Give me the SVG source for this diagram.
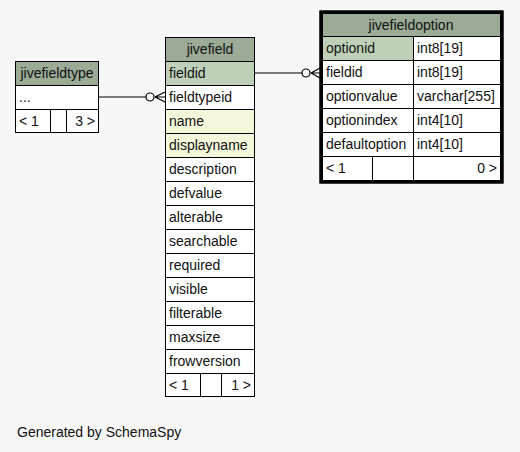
<svg xmlns="http://www.w3.org/2000/svg" width="520" height="452" viewBox="0 0 520 452">
<style>
text{font-family:"Liberation Sans",Arial,sans-serif;font-size:14px;fill:#111}
.hd{fill:#9bab96}
.pk{fill:#bed1b8}
.ix{fill:#f4f7da}
.rw{fill:#ffffff}
.b{stroke:#000;stroke-width:1}
.c{fill:none;stroke:#000;stroke-width:1.2}
.m{text-anchor:middle}
.e{text-anchor:end}
</style>
<rect width="520" height="452" fill="#f7f7f7"/>
<g id="connectors">
<line x1="254" y1="73" x2="302" y2="73" class="c"/>
<circle cx="306" cy="73" r="4" class="c"/>
<path d="M311 73 L320 68 M311 73 L320 73 M311 73 L320 78" class="c" stroke-width="1.6"/>
<line x1="98" y1="97" x2="146" y2="97" class="c"/>
<circle cx="150" cy="97" r="4" class="c"/>
<path d="M155 97 L165 92 M155 97 L165 97 M155 97 L165 102" class="c" stroke-width="1.6"/>
</g>
<g id="jivefieldtype">
<rect x="15.5" y="61.5" width="83" height="71" class="rw b"/>
<rect x="15.5" y="61.5" width="83" height="24" class="hd b"/>
<rect x="15.5" y="85.5" width="83" height="24" class="rw b"/>
<rect x="15.5" y="109.5" width="83" height="23" class="rw b"/>
<line x1="50.5" y1="109.5" x2="50.5" y2="132.5" class="b"/>
<line x1="66.5" y1="109.5" x2="66.5" y2="132.5" class="b"/>
<text x="57" y="78" class="m">jivefieldtype</text>
<text x="19" y="102">...</text>
<text x="19" y="126">&lt; 1</text>
<text x="95" y="126" class="e">3 &gt;</text>
</g>
<g id="jivefield">
<rect x="165.5" y="37.5" width="89" height="359" class="rw b"/>
<rect x="165.5" y="37.5" width="89" height="24" class="hd b"/>
<rect x="165.5" y="61.5" width="89" height="24" class="pk b"/>
<rect x="165.5" y="85.5" width="89" height="24" class="rw b"/>
<rect x="165.5" y="109.5" width="89" height="24" class="ix b"/>
<rect x="165.5" y="133.5" width="89" height="24" class="ix b"/>
<rect x="165.5" y="157.5" width="89" height="24" class="rw b"/>
<rect x="165.5" y="181.5" width="89" height="24" class="rw b"/>
<rect x="165.5" y="205.5" width="89" height="24" class="rw b"/>
<rect x="165.5" y="229.5" width="89" height="24" class="rw b"/>
<rect x="165.5" y="253.5" width="89" height="24" class="rw b"/>
<rect x="165.5" y="277.5" width="89" height="24" class="rw b"/>
<rect x="165.5" y="301.5" width="89" height="24" class="rw b"/>
<rect x="165.5" y="325.5" width="89" height="24" class="rw b"/>
<rect x="165.5" y="349.5" width="89" height="24" class="rw b"/>
<rect x="165.5" y="373.5" width="89" height="23" class="rw b"/>
<line x1="200.5" y1="373.5" x2="200.5" y2="396.5" class="b"/>
<line x1="221.5" y1="373.5" x2="221.5" y2="396.5" class="b"/>
<text x="210" y="54" class="m">jivefield</text>
<text x="169" y="78">fieldid</text>
<text x="169" y="102">fieldtypeid</text>
<text x="169" y="126">name</text>
<text x="169" y="150">displayname</text>
<text x="169" y="174">description</text>
<text x="169" y="198">defvalue</text>
<text x="169" y="222">alterable</text>
<text x="169" y="246">searchable</text>
<text x="169" y="270">required</text>
<text x="169" y="294">visible</text>
<text x="169" y="318">filterable</text>
<text x="169" y="342">maxsize</text>
<text x="169" y="366">frowversion</text>
<text x="169" y="390">&lt; 1</text>
<text x="251" y="390" class="e">1 &gt;</text>
</g>
<g id="jivefieldoption">
<rect x="321" y="12" width="181" height="170" class="rw" stroke="#000" stroke-width="3"/>
<rect x="322.5" y="13.5" width="178" height="23" class="hd b"/>
<rect x="322.5" y="36.5" width="91" height="24" class="pk b"/>
<rect x="413.5" y="36.5" width="87" height="24" class="rw b"/>
<rect x="322.5" y="60.5" width="91" height="24" class="rw b"/>
<rect x="413.5" y="60.5" width="87" height="24" class="rw b"/>
<rect x="322.5" y="84.5" width="91" height="24" class="rw b"/>
<rect x="413.5" y="84.5" width="87" height="24" class="rw b"/>
<rect x="322.5" y="108.5" width="91" height="24" class="rw b"/>
<rect x="413.5" y="108.5" width="87" height="24" class="rw b"/>
<rect x="322.5" y="132.5" width="91" height="24" class="rw b"/>
<rect x="413.5" y="132.5" width="87" height="24" class="rw b"/>
<rect x="322.5" y="156.5" width="178" height="24" class="rw b"/>
<line x1="372.5" y1="156.5" x2="372.5" y2="180.5" class="b"/>
<line x1="413.5" y1="156.5" x2="413.5" y2="180.5" class="b"/>
<rect x="321" y="12" width="181" height="170" fill="none" stroke="#000" stroke-width="3"/>
<text x="411" y="30" class="m">jivefieldoption</text>
<text x="326" y="53">optionid</text>
<text x="417" y="53">int8[19]</text>
<text x="326" y="77">fieldid</text>
<text x="417" y="77">int8[19]</text>
<text x="326" y="101">optionvalue</text>
<text x="417" y="101">varchar[255]</text>
<text x="326" y="125">optionindex</text>
<text x="417" y="125">int4[10]</text>
<text x="326" y="149">defaultoption</text>
<text x="417" y="149">int4[10]</text>
<text x="326" y="173">&lt; 1</text>
<text x="497" y="173" class="e">0 &gt;</text>
</g>
<text x="17" y="437">Generated by SchemaSpy</text>
</svg>
